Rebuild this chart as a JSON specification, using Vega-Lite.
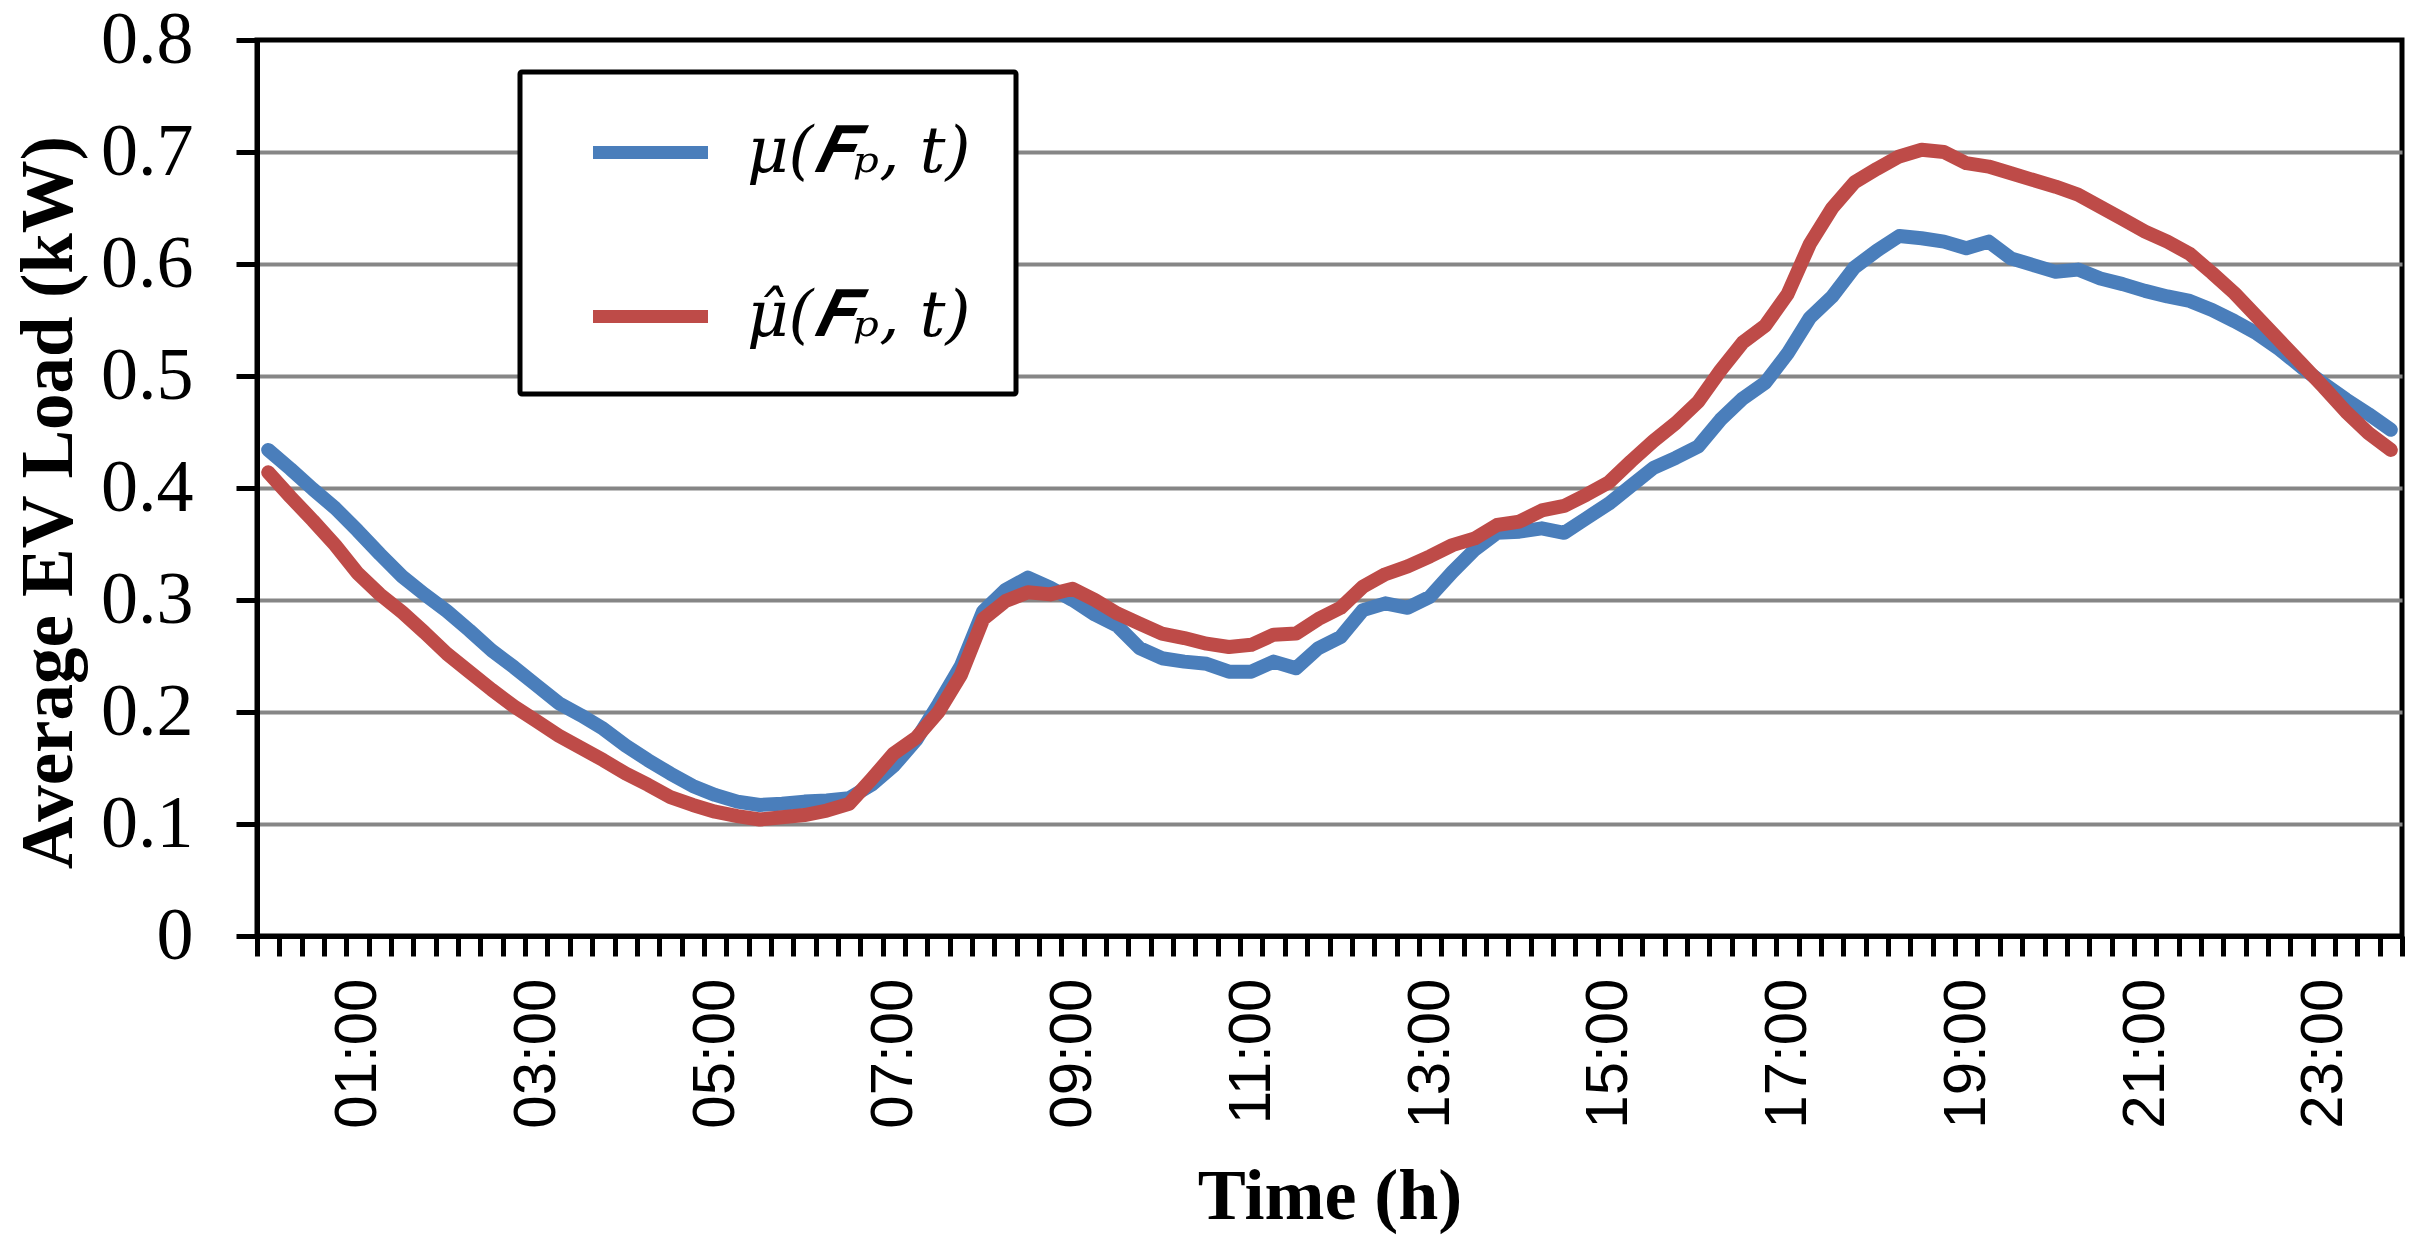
{
  "$schema": "https://vega.github.io/schema/vega-lite/v6.json",
  "width": 2145,
  "height": 896,
  "autosize": {"type": "none"},
  "padding": {"left": 257, "top": 40, "right": 20, "bottom": 303},
  "background": "white",
  "config": {
    "view": {"stroke": "black", "strokeWidth": 5}
  },
  "data": {
    "values": [
      {"h": 0, "mu": 0.434, "muhat": 0.414},
      {"h": 0.25, "mu": 0.417, "muhat": 0.392},
      {"h": 0.5, "mu": 0.399, "muhat": 0.371},
      {"h": 0.75, "mu": 0.382, "muhat": 0.349},
      {"h": 1, "mu": 0.362, "muhat": 0.324},
      {"h": 1.25, "mu": 0.341, "muhat": 0.305},
      {"h": 1.5, "mu": 0.321, "muhat": 0.289},
      {"h": 1.75, "mu": 0.305, "muhat": 0.271},
      {"h": 2, "mu": 0.290, "muhat": 0.252},
      {"h": 2.25, "mu": 0.273, "muhat": 0.236},
      {"h": 2.5, "mu": 0.255, "muhat": 0.220},
      {"h": 2.75, "mu": 0.240, "muhat": 0.205},
      {"h": 3, "mu": 0.224, "muhat": 0.192},
      {"h": 3.25, "mu": 0.208, "muhat": 0.179},
      {"h": 3.5, "mu": 0.197, "muhat": 0.168},
      {"h": 3.75, "mu": 0.185, "muhat": 0.157},
      {"h": 4, "mu": 0.170, "muhat": 0.145},
      {"h": 4.25, "mu": 0.157, "muhat": 0.135},
      {"h": 4.5, "mu": 0.145, "muhat": 0.124},
      {"h": 4.75, "mu": 0.134, "muhat": 0.117},
      {"h": 5, "mu": 0.126, "muhat": 0.111},
      {"h": 5.25, "mu": 0.120, "muhat": 0.107},
      {"h": 5.5, "mu": 0.117, "muhat": 0.104},
      {"h": 5.75, "mu": 0.118, "muhat": 0.106},
      {"h": 6, "mu": 0.120, "muhat": 0.108},
      {"h": 6.25, "mu": 0.121, "muhat": 0.112},
      {"h": 6.5, "mu": 0.123, "muhat": 0.118},
      {"h": 6.75, "mu": 0.135, "muhat": 0.140},
      {"h": 7, "mu": 0.152, "muhat": 0.163},
      {"h": 7.25, "mu": 0.175, "muhat": 0.177},
      {"h": 7.5, "mu": 0.207, "muhat": 0.200},
      {"h": 7.75, "mu": 0.241, "muhat": 0.233},
      {"h": 8, "mu": 0.290, "muhat": 0.283},
      {"h": 8.25, "mu": 0.309, "muhat": 0.299},
      {"h": 8.5, "mu": 0.320, "muhat": 0.307},
      {"h": 8.75, "mu": 0.311, "muhat": 0.305},
      {"h": 9, "mu": 0.300, "muhat": 0.310},
      {"h": 9.25, "mu": 0.287, "muhat": 0.300},
      {"h": 9.5, "mu": 0.277, "muhat": 0.288},
      {"h": 9.75, "mu": 0.257, "muhat": 0.279},
      {"h": 10, "mu": 0.248, "muhat": 0.270},
      {"h": 10.25, "mu": 0.245, "muhat": 0.266},
      {"h": 10.5, "mu": 0.243, "muhat": 0.261},
      {"h": 10.75, "mu": 0.236, "muhat": 0.258},
      {"h": 11, "mu": 0.236, "muhat": 0.260},
      {"h": 11.25, "mu": 0.245, "muhat": 0.269},
      {"h": 11.5, "mu": 0.239, "muhat": 0.270},
      {"h": 11.75, "mu": 0.257, "muhat": 0.283},
      {"h": 12, "mu": 0.267, "muhat": 0.293},
      {"h": 12.25, "mu": 0.291, "muhat": 0.312},
      {"h": 12.5, "mu": 0.297, "muhat": 0.323},
      {"h": 12.75, "mu": 0.293, "muhat": 0.330},
      {"h": 13, "mu": 0.303, "muhat": 0.339},
      {"h": 13.25, "mu": 0.325, "muhat": 0.349},
      {"h": 13.5, "mu": 0.345, "muhat": 0.355},
      {"h": 13.75, "mu": 0.360, "muhat": 0.367},
      {"h": 14, "mu": 0.361, "muhat": 0.370},
      {"h": 14.25, "mu": 0.364, "muhat": 0.380},
      {"h": 14.5, "mu": 0.360, "muhat": 0.384},
      {"h": 14.75, "mu": 0.373, "muhat": 0.394},
      {"h": 15, "mu": 0.386, "muhat": 0.405},
      {"h": 15.25, "mu": 0.402, "muhat": 0.424},
      {"h": 15.5, "mu": 0.418, "muhat": 0.442},
      {"h": 15.75, "mu": 0.427, "muhat": 0.458},
      {"h": 16, "mu": 0.437, "muhat": 0.477},
      {"h": 16.25, "mu": 0.461, "muhat": 0.505},
      {"h": 16.5, "mu": 0.480, "muhat": 0.530},
      {"h": 16.75, "mu": 0.494, "muhat": 0.545},
      {"h": 17, "mu": 0.520, "muhat": 0.573},
      {"h": 17.25, "mu": 0.552, "muhat": 0.618},
      {"h": 17.5, "mu": 0.571, "muhat": 0.650},
      {"h": 17.75, "mu": 0.597, "muhat": 0.673},
      {"h": 18, "mu": 0.612, "muhat": 0.685},
      {"h": 18.25, "mu": 0.625, "muhat": 0.696},
      {"h": 18.5, "mu": 0.623, "muhat": 0.702},
      {"h": 18.75, "mu": 0.620, "muhat": 0.700},
      {"h": 19, "mu": 0.614, "muhat": 0.690},
      {"h": 19.25, "mu": 0.620, "muhat": 0.687},
      {"h": 19.5, "mu": 0.605, "muhat": 0.681},
      {"h": 19.75, "mu": 0.599, "muhat": 0.675},
      {"h": 20, "mu": 0.593, "muhat": 0.669},
      {"h": 20.25, "mu": 0.595, "muhat": 0.662},
      {"h": 20.5, "mu": 0.587, "muhat": 0.651},
      {"h": 20.75, "mu": 0.582, "muhat": 0.640},
      {"h": 21, "mu": 0.576, "muhat": 0.629},
      {"h": 21.25, "mu": 0.571, "muhat": 0.620},
      {"h": 21.5, "mu": 0.567, "muhat": 0.609},
      {"h": 21.75, "mu": 0.559, "muhat": 0.592},
      {"h": 22, "mu": 0.549, "muhat": 0.574},
      {"h": 22.25, "mu": 0.538, "muhat": 0.553},
      {"h": 22.5, "mu": 0.524, "muhat": 0.532},
      {"h": 22.75, "mu": 0.508, "muhat": 0.511},
      {"h": 23, "mu": 0.493, "muhat": 0.490},
      {"h": 23.25, "mu": 0.479, "muhat": 0.468},
      {"h": 23.5, "mu": 0.466, "muhat": 0.449},
      {"h": 23.75, "mu": 0.452, "muhat": 0.434}
    ]
  },
  "transform": [{"fold": ["mu", "muhat"], "as": ["series", "v"]}],
  "mark": {"type": "line", "strokeWidth": 14, "strokeJoin": "round", "strokeCap": "round"},
  "encoding": {
    "x": {
      "field": "h",
      "type": "quantitative",
      "scale": {"domain": [-0.125, 23.875], "nice": false, "zero": false},
      "axis": {
        "values": [-0.125, 0.125, 0.375, 0.625, 0.875, 1.125, 1.375, 1.625, 1.875, 2.125, 2.375, 2.625, 2.875, 3.125, 3.375, 3.625, 3.875, 4.125, 4.375, 4.625, 4.875, 5.125, 5.375, 5.625, 5.875, 6.125, 6.375, 6.625, 6.875, 7.125, 7.375, 7.625, 7.875, 8.125, 8.375, 8.625, 8.875, 9.125, 9.375, 9.625, 9.875, 10.125, 10.375, 10.625, 10.875, 11.125, 11.375, 11.625, 11.875, 12.125, 12.375, 12.625, 12.875, 13.125, 13.375, 13.625, 13.875, 14.125, 14.375, 14.625, 14.875, 15.125, 15.375, 15.625, 15.875, 16.125, 16.375, 16.625, 16.875, 17.125, 17.375, 17.625, 17.875, 18.125, 18.375, 18.625, 18.875, 19.125, 19.375, 19.625, 19.875, 20.125, 20.375, 20.625, 20.875, 21.125, 21.375, 21.625, 21.875, 22.125, 22.375, 22.625, 22.875, 23.125, 23.375, 23.625, 23.875],
        "labelExpr": "(datum.value + 0.125) % 2 == 1 ? ((datum.value + 0.125) < 10 ? '0' : '') + (datum.value + 0.125) + ':00' : ''",
        "labelOffset": 11.17,
        "labelAngle": -90,
        "labelAlign": "right",
        "labelBaseline": "middle",
        "labelFont": "Liberation Sans",
        "labelFontSize": 60,
        "labelColor": "black",
        "labelPadding": 22,
        "labelOverlap": false,
        "labelFlush": false,
        "labelBound": false,
        "grid": false,
        "domainColor": "black",
        "domainWidth": 5,
        "tickColor": "black",
        "tickWidth": 5,
        "tickSize": 20,
        "title": "Time (h)",
        "titleFont": "Liberation Serif",
        "titleFontSize": 72,
        "titleFontWeight": "bold",
        "titleColor": "black",
        "titleBaseline": "alphabetic",
        "titleY": 282
      }
    },
    "y": {
      "field": "v",
      "type": "quantitative",
      "scale": {"domain": [0, 0.8], "nice": false},
      "axis": {
        "values": [0, 0.1, 0.2, 0.3, 0.4, 0.5, 0.6, 0.7, 0.8],
        "format": ".1~f",
        "labelFont": "Liberation Serif",
        "labelFontSize": 74,
        "labelColor": "black",
        "labelPadding": 43,
        "grid": true,
        "gridColor": {"condition": {"test": "datum.value < 0.05 || datum.value > 0.75", "value": "transparent"}, "value": "#868686"},
        "gridWidth": 4,
        "domainColor": "black",
        "domainWidth": 5,
        "tickColor": "black",
        "tickWidth": 5,
        "tickSize": 21,
        "title": "Average EV Load (kW)",
        "titleFont": "Liberation Serif",
        "titleFontSize": 73,
        "titleFontWeight": "bold",
        "titleColor": "black",
        "titleBaseline": "alphabetic",
        "titleAngle": -90,
        "titleAlign": "center",
        "titleX": -186,
        "titleY": 462
      }
    },
    "color": {
      "field": "series",
      "type": "nominal",
      "scale": {"domain": ["mu", "muhat"], "range": ["#4A7EBB", "#BE4B48"]},
      "legend": {
        "title": null,
        "orient": "none",
        "legendX": 263,
        "legendY": 32,
        "labelExpr": "datum.label == 'mu' ? 'μ(𝑭ₚ, t)' : 'μ̂(𝑭ₚ, t)'",
        "labelFont": "DejaVu Serif",
        "labelFontStyle": "italic",
        "labelFontSize": 64,
        "labelColor": "black",
        "labelLimit": 1000,
        "labelOffset": 61,
        "symbolType": "M -2 0 H 2",
        "symbolSize": 3306,
        "symbolStrokeWidth": 13,
        "symbolOffset": 50,
        "rowPadding": 96,
        "padding": 45,
        "strokeColor": "black",
        "fillColor": "white",
        "cornerRadius": 2,
        "encode": {"legend": {"update": {"strokeWidth": {"value": 5}}}}
      }
    }
  }
}
